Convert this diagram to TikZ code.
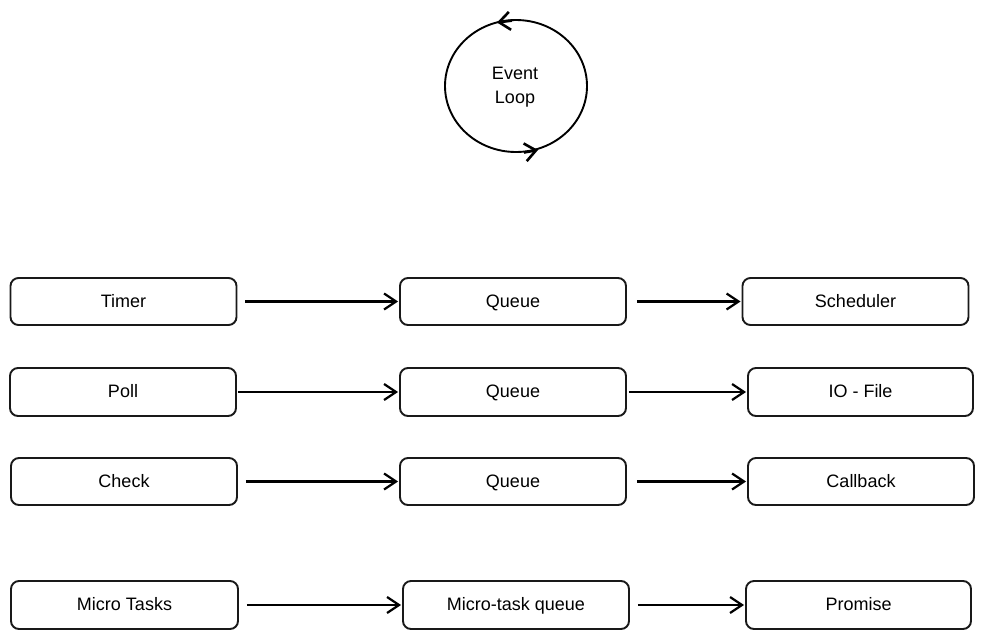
\documentclass[tikz,border=0pt]{standalone}
\usepackage{fontspec}
\setmainfont{Liberation Sans}
\usetikzlibrary{arrows.meta}
\begin{document}
\begin{tikzpicture}[x=1pt,y=-1pt,
  box/.style={draw=black!90,line width=1.9pt,rounded corners=8pt,minimum width=226pt,minimum height=47pt,inner sep=0pt,text height=12pt,text depth=1pt,font=\fontsize{18}{21}\selectfont},
  flow/.style={line width=2.2pt,-{Straight Barb[length=12pt,width=16pt,line width=2.2pt]},shorten <=8pt,shorten >=1pt},
  looparrow/.style={line width=2.6pt,-{Straight Barb[length=11pt,width=18pt,line width=2.6pt]}}
]
\useasboundingbox (0,0) rectangle (984,638);
% event loop
\draw[line width=1.9pt] (516,86) ellipse [x radius=71, y radius=66];
\node[font=\fontsize{18}{21}\selectfont,align=center] (loop) at (515,87) {Event\\[3pt]Loop};
\coordinate (t1) at (512,20.6);
\coordinate (t2) at (497,22.5);
\coordinate (b1) at (524,152.5);
\coordinate (b2) at (538,150);
\draw[looparrow] (t1) -- (t2);
\draw[looparrow] (b1) -- (b2);
% row 1
\node[box] (timer) at (123.5,301.5) {Timer};
\node[box] (q1) at (513,301.5) {Queue};
\node[box] (sched) at (855.5,301.5) {Scheduler};
% row 2
\node[box,minimum height=48pt] (poll) at (123,392) {Poll};
\node[box,minimum height=48pt] (q2) at (513,392) {Queue};
\node[box,minimum height=48pt,minimum width=225pt] (io) at (860.5,392) {IO - File};
% row 3
\node[box] (check) at (124,481.5) {Check};
\node[box] (q3) at (513,481.5) {Queue};
\node[box] (cb) at (861,481.5) {Callback};
% row 4
\node[box,minimum height=48pt,minimum width=227pt] (micro) at (124.5,605) {Micro Tasks};
\node[box,minimum height=48pt] (mtq) at (516,605) {Micro-task queue};
\node[box,minimum height=48pt,minimum width=225pt] (prom) at (858.5,605) {Promise};
% arrows
\draw[flow] (timer) -- (q1);
\draw[flow,shorten <=10pt] (q1) -- (sched);
\draw[flow,shorten <=1pt] (poll) -- (q2);
\draw[flow,shorten <=2pt] (q2) -- (io);
\draw[flow] (check) -- (q3);
\draw[flow,shorten <=10pt] (q3) -- (cb);
\draw[flow] (micro) -- (mtq);
\draw[flow] (mtq) -- (prom);
\end{tikzpicture}
\end{document}
